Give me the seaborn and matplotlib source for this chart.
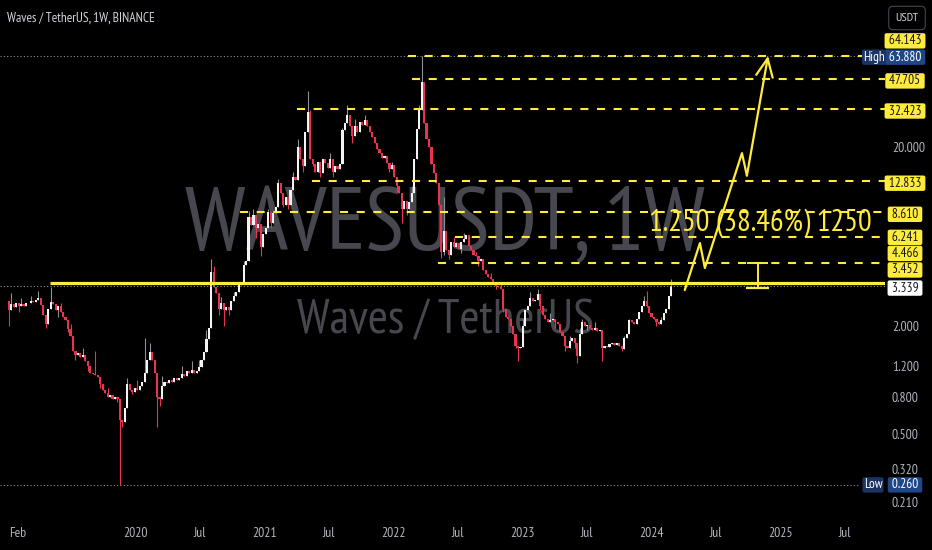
import matplotlib
matplotlib.use('Agg')
import matplotlib.pyplot as plt
import matplotlib.dates as mdates
import matplotlib.transforms as mtransforms
import seaborn as sns
import pandas as pd
import numpy as np

# weekly WAVES/USDT closes (first candle week of 2019-01-07)
first_open = 2.75
closes = [
    2.45, 2.65, 2.55, 2.70, 2.60, 2.66, 2.58, 2.70, 2.68, 2.76,
    2.72, 2.80, 2.85, 2.62, 2.30, 2.05, 2.50, 2.72, 2.65, 2.45,
    2.60, 2.40, 2.25, 2.15, 1.92, 1.75, 1.45, 1.38, 1.42, 1.35,
    1.38, 1.28, 1.20, 1.10, 1.08, 1.06, 1.04, 0.95, 0.88, 0.85,
    0.80, 0.82, 0.78, 0.80, 0.78, 0.60, 0.58, 0.70, 0.95, 0.88,
    0.86, 0.90, 0.88, 0.92, 0.98, 1.09, 1.30, 1.43, 1.30, 1.10,
    0.80, 0.78, 0.92, 0.97, 0.96, 1.00, 0.98, 1.02, 1.00, 1.03,
    1.08, 1.05, 1.12, 1.10, 1.14, 1.10, 1.12, 1.18, 1.30, 1.43,
    1.70, 1.95, 4.00, 3.30, 3.05, 2.50, 2.70, 2.45, 2.55, 2.45,
    2.75, 2.95, 3.10, 3.40, 3.45, 4.40, 4.60, 8.10, 7.30, 8.30,
    7.00, 7.40, 5.50, 6.50, 7.00, 8.60, 7.50, 8.50, 9.20, 12.50,
    11.00, 9.50, 10.50, 9.50, 11.50, 13.50, 13.00, 20.00, 17.00, 15.50,
    24.00, 31.00, 17.00, 16.00, 14.50, 16.50, 14.20, 17.00, 16.20, 15.20,
    17.00, 14.50, 15.50, 15.00, 16.00, 24.80, 27.00, 30.00, 26.00, 23.00,
    26.00, 24.00, 27.50, 26.50, 28.00, 26.00, 24.00, 22.60, 21.00, 19.50,
    18.40, 17.20, 17.80, 16.20, 15.00, 15.80, 13.50, 12.00, 11.00, 9.00,
    10.00, 9.00, 9.80, 11.00, 17.00, 25.00, 32.00, 46.00, 27.00, 22.00,
    20.00, 16.00, 14.30, 12.50, 9.50, 5.20, 6.80, 5.30, 5.00, 5.90,
    5.50, 5.80, 5.40, 5.90, 6.10, 6.40, 5.60, 5.30, 5.00, 4.90,
    4.60, 4.70, 4.10, 3.90, 3.75, 3.65, 3.45, 3.35, 3.30, 3.20,
    2.50, 2.25, 2.20, 2.00, 1.80, 1.55, 1.50, 1.52, 2.00, 2.45,
    2.60, 2.85, 2.75, 2.80, 3.00, 2.60, 2.30, 2.20, 2.10, 2.15,
    2.20, 2.10, 2.05, 1.85, 1.75, 1.55, 1.50, 1.65, 1.72, 1.60,
    1.36, 1.80, 2.10, 2.00, 2.02, 1.95, 1.90, 1.95, 1.88, 1.90,
    1.50, 1.55, 1.52, 1.58, 1.60, 1.56, 1.60, 1.55, 1.48, 1.72,
    1.80, 2.15, 2.10, 2.05, 2.20, 2.40, 2.60, 2.75, 2.60, 2.35,
    2.25, 2.20, 2.10, 2.05, 2.15, 2.35, 2.50, 2.95, 3.339,
]
# visible wick ends (week index: price)
high_wicks = {1: 3.05, 5: 2.85, 9: 2.95, 12: 3.15, 17: 3.3, 21: 2.7, 25: 2.05, 30: 1.5,
              35: 1.45, 40: 0.9, 48: 1.02, 52: 1.0, 55: 1.71, 57: 1.6, 62: 1.05, 70: 1.2,
              74: 1.28, 77: 1.3, 80: 1.9, 82: 4.7, 83: 4.3, 86: 2.9, 91: 3.1, 95: 4.6,
              97: 8.8, 99: 9.0, 105: 9.0, 109: 13.2, 115: 14.5, 117: 22.0, 121: 41.0,
              122: 32.0, 130: 18.5, 135: 25.5, 137: 34.0, 140: 28.5, 144: 30.0, 150: 19.5,
              155: 16.5, 163: 12.0, 166: 34.0, 167: 63.88, 169: 27.0, 176: 10.5, 180: 6.3,
              184: 6.6, 189: 5.2, 195: 3.95, 199: 3.45, 208: 2.2, 211: 3.1, 214: 3.2,
              219: 2.35, 227: 1.75, 231: 1.95, 232: 2.2, 237: 2.1, 249: 1.75, 251: 2.2,
              257: 2.95, 258: 3.15, 264: 2.25, 268: 3.65}
low_wicks = {0: 2.0, 4: 2.4, 15: 1.95, 20: 2.25, 24: 1.85, 27: 1.3, 32: 1.12, 37: 0.9,
             44: 0.75, 45: 0.26, 46: 0.55, 50: 0.83, 60: 0.55, 61: 0.72, 85: 2.3, 87: 2.0,
             89: 2.3, 100: 6.2, 102: 4.9, 106: 7.0, 111: 9.2, 113: 9.0, 119: 14.5,
             123: 15.5, 126: 13.5, 131: 13.5, 139: 21.0, 154: 14.5, 157: 11.2, 159: 7.5,
             161: 8.3, 175: 4.8, 176: 5.0, 178: 4.7, 183: 5.1, 190: 4.3, 197: 3.2,
             200: 2.4, 205: 1.5, 206: 1.28, 215: 2.45, 221: 1.95, 225: 1.45, 229: 1.5,
             230: 1.24, 234: 1.9, 240: 1.28, 248: 1.45, 258: 2.55, 262: 2.0}

# drawn levels
levels = [64.143, 47.705, 32.423, 12.833, 8.610, 6.241, 4.466]
level_starts = ['2022-02-10', '2022-02-21', '2021-04-02', '2021-05-14',
                '2020-10-22', '2022-06-23', '2022-05-06']
support = 3.452
support_start = '2019-05-04'
last_price = 3.339
ath = 63.88
atl = 0.26

# projection path and measure tool
proj_dates = ['2024-04-04', '2024-05-17', '2024-05-31', '2024-09-13', '2024-09-27']
proj_prices = [3.17, 5.80, 4.21, 18.4, 13.8]
arrow_tip = ('2024-11-26', 64.143)
range_low, range_high = 3.25, 4.50
range_dates = ['2024-09-27', '2024-10-28', '2024-11-26']
range_text = '1.250 (38.46%) 1250'
range_text_at = ('2024-11-03', 6.77)

price_ticks = [20, 2, 1.2, 0.8, 0.5, 0.32, 0.21]
date_ticks = ['2019-02-01', '2020-01-01', '2020-07-01', '2021-01-01', '2021-07-01',
              '2022-01-01', '2022-07-01', '2023-01-01', '2023-07-01', '2024-01-01',
              '2024-07-01', '2025-01-01', '2025-07-01']
date_labels = ['Feb', '2020', 'Jul', '2021', 'Jul', '2022', 'Jul', '2023', 'Jul',
               '2024', 'Jul', '2025', 'Jul']

BG = '#000000'
UP = '#f4f4f4'
DOWN = '#e8344f'
UP_WICK = '#8d9099'
YELLOW = '#ffeb3b'
AXIS_TXT = '#b2b5be'
WATERMARK = '#47484f'
DOTS = '#8c8f99'

df = pd.DataFrame({'date': pd.date_range('2019-01-07', periods=len(closes), freq='7D'),
                   'close': closes})
df['open'] = df['close'].shift(1).fillna(first_open)
df['high'] = df[['open', 'close']].max(axis=1)
df['low'] = df[['open', 'close']].min(axis=1)
for i, v in high_wicks.items():
    df.loc[i, 'high'] = max(df.loc[i, 'high'], v)
for i, v in low_wicks.items():
    df.loc[i, 'low'] = min(df.loc[i, 'low'], v)
df['x'] = mdates.date2num(df['date'])
up = df['close'] >= df['open']

sns.set_theme(style='dark', rc={'axes.facecolor': BG, 'figure.facecolor': BG})
plt.rcParams['font.family'] = ['PT Sans Narrow', 'Liberation Sans', 'DejaVu Sans']
plt.rcParams['lines.scale_dashes'] = False

fig = plt.figure(figsize=(9.32, 5.5), dpi=100)
ax = fig.add_axes([0, 40 / 550, 885 / 932, 510 / 550])
ax.set_facecolor(BG)
ax.set_yscale('log')
ax.set_ylim(0.1884, 131.4)
d0 = mdates.date2num(pd.Timestamp('2020-01-01'))
ax.set_xlim(d0 - 383.6, d0 + 2122)
xmax = d0 + 2122
ax.grid(False)
for s in ax.spines.values():
    s.set_visible(False)

def dn(d):
    return mdates.date2num(pd.Timestamp(d))

# watermark
ax.text(0.503, 0.51, 'WAVESUSDT, 1W', transform=ax.transAxes, ha='center', va='baseline',
        fontsize=65, color=WATERMARK, zorder=0.5)
ax.text(0.503, 0.347, 'Waves / TetherUS', transform=ax.transAxes, ha='center', va='baseline',
        fontsize=35, color=WATERMARK, zorder=0.5)

# candles
bottom = df[['open', 'close']].min(axis=1)
top = np.maximum(df[['open', 'close']].max(axis=1), bottom * 1.008)
ax.vlines(df['x'], df['low'], df['high'], colors=np.where(up, UP_WICK, DOWN),
          linewidth=0.8, zorder=2.9)
ax.bar(df['x'], top - bottom, bottom=bottom, width=6.0,
       color=np.where(up, UP, DOWN), linewidth=0, zorder=3)

# levels
for lv, st in zip(levels, level_starts):
    ax.hlines(lv, dn(st), xmax, colors=YELLOW, linewidth=1.5, linestyles=(0, (5.8, 6.2)), zorder=4)
ax.hlines(support, dn(support_start), xmax, colors=YELLOW, linewidth=2.3, zorder=4)
ax.hlines([ath, last_price], ax.get_xlim()[0], xmax, colors=DOTS, linewidth=0.8,
          linestyles=(0, (0.8, 1.6)), zorder=3.5)
ax.hlines(atl, ax.get_xlim()[0], xmax - 70, colors=DOTS, linewidth=0.8,
          linestyles=(0, (0.8, 1.6)), zorder=3.5)

# projection zigzag + arrow
px = [dn(d) for d in proj_dates]
sns.lineplot(x=px, y=proj_prices, sort=False, estimator=None, color=YELLOW,
             linewidth=1.6, ax=ax, zorder=5)
ax.annotate('', xy=(dn(arrow_tip[0]), arrow_tip[1]), xytext=(px[-1], proj_prices[-1]),
            arrowprops=dict(arrowstyle='->,head_length=1.3,head_width=0.6', color=YELLOW,
                            lw=1.6, shrinkA=0, shrinkB=0, mutation_scale=10), zorder=5)

# measure bracket
ax.vlines(dn(range_dates[1]), range_low, range_high, colors=YELLOW, linewidth=1.4, zorder=5)
ax.hlines(range_high, dn(range_dates[0]), dn(range_dates[2]), colors=YELLOW, linewidth=1.4, zorder=5)
ax.hlines(range_low, dn(range_dates[0]) - 3, dn(range_dates[2]) + 3, colors=YELLOW,
          linewidth=1.6, zorder=5)
ax.text(dn(range_text_at[0]), range_text_at[1], range_text, ha='center', va='baseline',
        fontsize=22, color=YELLOW, zorder=6)

# axes ticks
ax.yaxis.tick_right()
ax.set_yticks(price_ticks)
ax.set_yticklabels([f'{t:.3f}' for t in price_ticks])
ax.yaxis.set_minor_locator(matplotlib.ticker.NullLocator())
ax.tick_params(axis='y', length=0, pad=5, labelsize=9.8, labelcolor=AXIS_TXT)
ax.set_xticks([dn(d) for d in date_ticks])
ax.set_xticklabels(date_labels)
ax.tick_params(axis='x', length=0, pad=12, labelsize=9.8, labelcolor=AXIS_TXT)

# price labels on the scale
trans = mtransforms.blended_transform_factory(ax.transAxes, ax.transData)

def price_box(price, text, fc, tc, dy=0, dx=20):
    ax.annotate(text, xy=(1, price), xycoords=trans, xytext=(dx, dy),
                textcoords='offset pixels', ha='center', va='center', fontsize=9.6,
                color=tc, annotation_clip=False, zorder=10,
                bbox=dict(boxstyle='round,pad=0.09,rounding_size=0.15', fc=fc, ec='none'))

offsets = [15, -2, -2, -2, -2, 0, 10]
for lv, off in zip(levels, offsets):
    price_box(lv, f' {lv:.3f} ', YELLOW, '#131722', dy=off)
price_box(support, f' {support:.3f} ', YELLOW, '#131722', dy=13.5)
price_box(last_price, f' {last_price:.3f} ', '#ffffff', '#131722', dy=-2)
price_box(ath, f' {ath:.3f} ', '#1f4687', '#ffffff', dy=-1)
price_box(ath, 'High', '#1b3461', '#ffffff', dy=-1, dx=-11)
price_box(atl, f' {atl:.3f} ', '#1f4687', '#ffffff')
price_box(atl, 'Low', '#1b3461', '#ffffff', dx=-12)

fig.text(7 / 932, 1 - 21.5 / 550, 'Waves / TetherUS, 1W, BINANCE', ha='left', va='baseline',
         fontsize=9.6, color='#d1d4dc')
fig.text(907 / 932, 1 - 18 / 550, 'USDT', ha='center', va='center', fontsize=8.8, color='#d1d4dc',
         bbox=dict(boxstyle='round,pad=0.55,rounding_size=0.35', fc=BG, ec='#434651', lw=0.8))

fig.savefig('out.png', dpi=100, facecolor=BG)
